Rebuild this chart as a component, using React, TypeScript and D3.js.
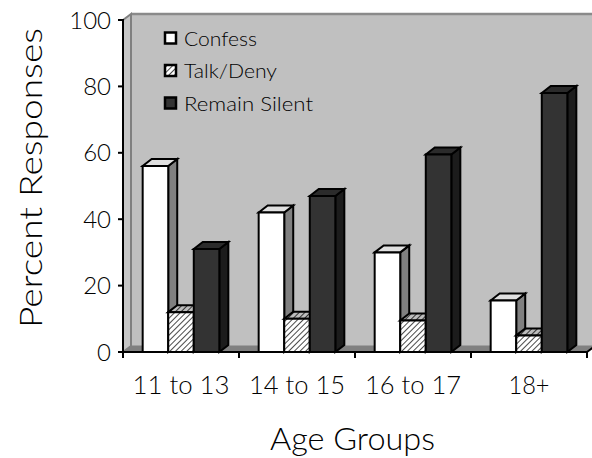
import React from "react";
import * as d3 from "d3";

const categories = ["11 to 13", "14 to 15", "16 to 17", "18+"];
const seriesNames = ["Confess", "Talk/Deny", "Remain Silent"];
const confess = [56, 42, 30, 15.5];
const talkDeny = [12, 10, 9.5, 5];
const remainSilent = [31, 47, 59.5, 78];
const yTicks = [0, 20, 40, 60, 80, 100];

const W = 592;
const H = 458;
const FONT = "Lato, 'Open Sans', 'DejaVu Sans', sans-serif";

const seriesValues = [confess, talkDeny, remainSilent];
const faceStyles = [
  { front: "#ffffff", top: "#e0e0e0", side: "#808080" },
  { front: "url(#hatch)", top: "url(#hatchDark)", side: "url(#hatchDark)" },
  { front: "#333333", top: "#2b2b2b", side: "#1c1c1c" },
];

const xLabelWidths = [97, 96, 96, 41];
const legendWidths = [73, 93, 129];

export default function App() {
  const plotLeft = 123;
  const plotRight = 587;
  const plotTop = 20;
  const plotBottom = 352;
  const wdx = 8;
  const wdy = -6;
  const bdx = 9;
  const bdy = -7;

  const y = d3.scaleLinear().domain([0, 100]).range([plotBottom, plotTop]);
  const x0 = d3.scaleBand().domain(categories).range([plotLeft, plotRight]).padding(0);
  const x1 = d3
    .scaleBand()
    .domain(seriesNames)
    .range([0, x0.bandwidth()])
    .paddingInner(0)
    .paddingOuter(0.77);

  const bars: React.ReactElement[] = [];
  categories.forEach((c, ci) => {
    seriesNames.forEach((s, si) => {
      const v = seriesValues[si][ci];
      const xl = (x0(c) as number) + (x1(s) as number);
      const bw = x1.bandwidth();
      const xr = xl + bw;
      const yt = y(v);
      const yb = y(0);
      const st = faceStyles[si];
      const front = `M${xl},${yb}L${xl},${yt}L${xr},${yt}L${xr},${yb}Z`;
      const top = `M${xl},${yt}L${xl + bdx},${yt + bdy}L${xr + bdx},${yt + bdy}L${xr},${yt}Z`;
      const side = `M${xr},${yt}L${xr + bdx},${yt + bdy}L${xr + bdx},${yb + bdy}L${xr},${yb}Z`;
      bars.push(
        <g key={`${ci}-${si}`} stroke="#000" strokeWidth={2} strokeLinejoin="miter">
          <path d={side} fill={st.side} />
          <path d={top} fill={st.top} />
          <path d={front} fill={st.front} />
        </g>
      );
    });
  });

  return (
    <svg width={W} height={H} style={{ position: "absolute", left: 0, top: 0, background: "#fff" }}>
      <defs>
        <pattern id="hatch" patternUnits="userSpaceOnUse" width={4} height={4} patternTransform="rotate(45)">
          <rect width={4} height={4} fill="#ffffff" />
          <line x1={0} y1={0} x2={0} y2={4} stroke="#4a4a4a" strokeWidth={2} />
        </pattern>
        <pattern id="hatchDark" patternUnits="userSpaceOnUse" width={4} height={4} patternTransform="rotate(45)">
          <rect width={4} height={4} fill="#bdbdbd" />
          <line x1={0} y1={0} x2={0} y2={4} stroke="#333" strokeWidth={2} />
        </pattern>
      </defs>

      {/* back wall */}
      <rect
        x={plotLeft + wdx}
        y={plotTop + wdy}
        width={W - plotLeft - wdx + 5}
        height={plotBottom - plotTop}
        fill="#c0c0c0"
      />
      <line x1={plotLeft + wdx} x2={W} y1={plotTop + wdy} y2={plotTop + wdy} stroke="#8a8a8a" strokeWidth={2.5} />
      {/* side wall */}
      <path
        d={`M${plotLeft},${plotTop}L${plotLeft + wdx},${plotTop + wdy}L${plotLeft + wdx},${plotBottom + wdy}L${plotLeft},${plotBottom}Z`}
        fill="#c6c6c6"
        stroke="#808080"
        strokeWidth={2}
      />
      {/* floor */}
      <path
        d={`M${plotLeft},${plotBottom}L${plotLeft + wdx},${plotBottom + wdy}L${plotRight + wdx},${plotBottom + wdy}L${plotRight},${plotBottom}Z`}
        fill="#808080"
        stroke="#808080"
        strokeWidth={1}
      />

      {bars}

      {/* axes */}
      <g stroke="#000" strokeWidth={2}>
        <line x1={plotLeft} x2={plotLeft} y1={plotTop - 1} y2={plotBottom + 1} />
        <line x1={plotLeft} x2={plotRight} y1={plotBottom} y2={plotBottom} />
        <line x1={plotRight} x2={plotRight + wdx} y1={plotBottom} y2={plotBottom + wdy} />
        {yTicks.map((t) => (
          <line key={t} x1={plotLeft - 5} x2={plotLeft} y1={y(t)} y2={y(t)} />
        ))}
        {categories.concat([""]).map((c, i) => {
          const xx = i < categories.length ? (x0(c) as number) : plotRight;
          return <line key={i} x1={xx} x2={xx} y1={plotBottom} y2={plotBottom + 6} />;
        })}
      </g>

      {/* y tick labels */}
      <g fontFamily={FONT} fontWeight={300} fontSize={24} fill="#000">
        {yTicks.map((t) => (
          <text key={t} x={plotLeft - 12} y={y(t) + 8.5} textAnchor="end">
            {t}
          </text>
        ))}
      </g>

      {/* x tick labels */}
      <g fontFamily={FONT} fontWeight={300} fontSize={26} fill="#000">
        {categories.map((c, i) => (
          <text
            key={c}
            x={(x0(c) as number) + x0.bandwidth() / 2 - xLabelWidths[i] / 2}
            y={394}
            textLength={xLabelWidths[i]}
            lengthAdjust="spacingAndGlyphs"
          >
            {c}
          </text>
        ))}
      </g>

      {/* axis titles */}
      <text
        x={270}
        y={450}
        fontFamily={FONT}
        fontWeight={300}
        fontSize={32}
        textLength={165}
        lengthAdjust="spacingAndGlyphs"
      >
        Age Groups
      </text>
      <text
        transform={`translate(42,328) rotate(-90)`}
        fontFamily={FONT}
        fontWeight={300}
        fontSize={32}
        textLength={300}
        lengthAdjust="spacingAndGlyphs"
      >
        Percent Responses
      </text>

      {/* legend */}
      <g fontFamily={FONT} fontWeight={300} fontSize={19}>
        {seriesNames.map((s, i) => {
          const cy = 38.5 + i * 32.5;
          return (
            <g key={s}>
              <rect x={165} y={cy - 6} width={11} height={11} fill={faceStyles[i].front} stroke="#000" strokeWidth={2.5} />
              <text x={184} y={cy + 7} textLength={legendWidths[i]} lengthAdjust="spacingAndGlyphs">
                {s}
              </text>
            </g>
          );
        })}
      </g>
    </svg>
  );
}
